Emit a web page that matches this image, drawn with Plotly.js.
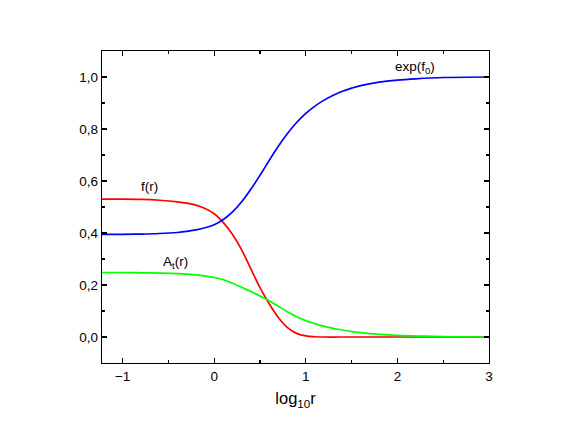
<!DOCTYPE html>
<html>
<head>
<meta charset="utf-8">
<script src="https://cdn.plot.ly/plotly-3.0.1.min.js"></script>
<style>html,body{margin:0;padding:0;background:#fff;}#chart{width:569px;height:436px;}</style>
</head>
<body>
<div id="chart"></div>
<script>
// log10 r values and series
const xBlue = [-1.225, -1.0, -0.8, -0.6, -0.4, -0.3, -0.2, -0.1, 0.0, 0.1, 0.2, 0.3, 0.4, 0.5, 0.6, 0.7, 0.8, 0.9, 1.0, 1.1, 1.2, 1.3, 1.4, 1.5, 1.6, 1.8, 2.0, 2.2, 2.5, 3.0];
const expF0 = [0.395, 0.395, 0.396, 0.398, 0.402, 0.406, 0.412, 0.420, 0.432, 0.452, 0.481, 0.520, 0.568, 0.622, 0.679, 0.734, 0.783, 0.825, 0.860, 0.888, 0.911, 0.930, 0.945, 0.957, 0.967, 0.980, 0.988, 0.993, 0.998, 1.0];

const xRed = [-1.225, -1.0, -0.8, -0.6, -0.4, -0.3, -0.2, -0.1, 0.0, 0.1, 0.2, 0.3, 0.4, 0.5, 0.6, 0.7, 0.8, 0.9, 1.0, 1.1, 1.2, 1.5, 2.0, 2.5, 3.0];
const fR = [0.530, 0.530, 0.529, 0.526, 0.520, 0.515, 0.507, 0.494, 0.474, 0.440, 0.394, 0.335, 0.262, 0.19, 0.128, 0.075, 0.036, 0.014, 0.004, 0.001, 0.0, 0.0, 0.0, 0.0, 0.0];

const xGreen = [-1.225, -1.0, -0.8, -0.6, -0.4, -0.2, 0.0, 0.1, 0.2, 0.3, 0.4, 0.5, 0.6, 0.7, 0.8, 0.9, 1.0, 1.1, 1.2, 1.3, 1.4, 1.5, 1.7, 2.0, 2.3, 2.6, 3.0];
const AtR = [0.248, 0.248, 0.247, 0.246, 0.244, 0.239, 0.229, 0.220, 0.207, 0.191, 0.175, 0.158, 0.139, 0.118, 0.097, 0.078, 0.063, 0.051, 0.041, 0.033, 0.027, 0.021, 0.013, 0.006, 0.003, 0.001, 0.0];

const labels = [
  {text: 'f(r)', x: -0.71, y: 0.58},
  {text: 'A<sub>t</sub>(r)', x: -0.42, y: 0.288},
  {text: 'exp(f<sub>0</sub>)', x: 2.19, y: 1.036}
];

const font = {family: 'Liberation Sans, Arial, sans-serif', color: '#000'};

const traces = [
  {x: xRed, y: fR, mode: 'lines', line: {color: '#ff0000', width: 1.7, shape: 'spline', smoothing: 1}},
  {x: xGreen, y: AtR, mode: 'lines', line: {color: '#00ff00', width: 1.7, shape: 'spline', smoothing: 1}},
  {x: xBlue, y: expF0, mode: 'lines', line: {color: '#0000ff', width: 1.7, shape: 'spline', smoothing: 1}}
];

const axisCommon = {
  showgrid: false, zeroline: false, showline: true, linecolor: '#000', linewidth: 1.3,
  mirror: 'allticks', ticks: 'inside', ticklen: 5, tickwidth: 1.2, tickcolor: '#000',
  tickfont: Object.assign({size: 13.5}, font)
};

const layout = {
  width: 569, height: 436,
  margin: {l: 102, r: 80, t: 51, b: 73},
  paper_bgcolor: '#fff', plot_bgcolor: '#fff',
  showlegend: false,
  separators: ',.',
  font: font,
  xaxis: Object.assign({}, axisCommon, {
    range: [-1.225, 3], tickmode: 'linear', tick0: 0, dtick: 1,
    minor: {ticks: 'inside', ticklen: 3, dtick: 0.5, tick0: 0, tickcolor: '#000', tickwidth: 1.2},
    title: {text: 'log<sub>10</sub>r', font: Object.assign({size: 16.5}, font), standoff: 10}
  }),
  yaxis: Object.assign({}, axisCommon, {
    range: [-0.1, 1.1], tickmode: 'linear', tick0: 0, dtick: 0.2, tickformat: '.1f',
    minor: {ticks: 'inside', ticklen: 3, dtick: 0.1, tick0: 0, tickcolor: '#000', tickwidth: 1.2}
  }),
  annotations: labels.map(l => ({
    text: l.text, x: l.x, y: l.y, xref: 'x', yref: 'y', showarrow: false,
    font: Object.assign({size: 13.5}, font)
  }))
};

Plotly.newPlot('chart', traces, layout, {displayModeBar: false, staticPlot: true});
</script>
</body>
</html>
